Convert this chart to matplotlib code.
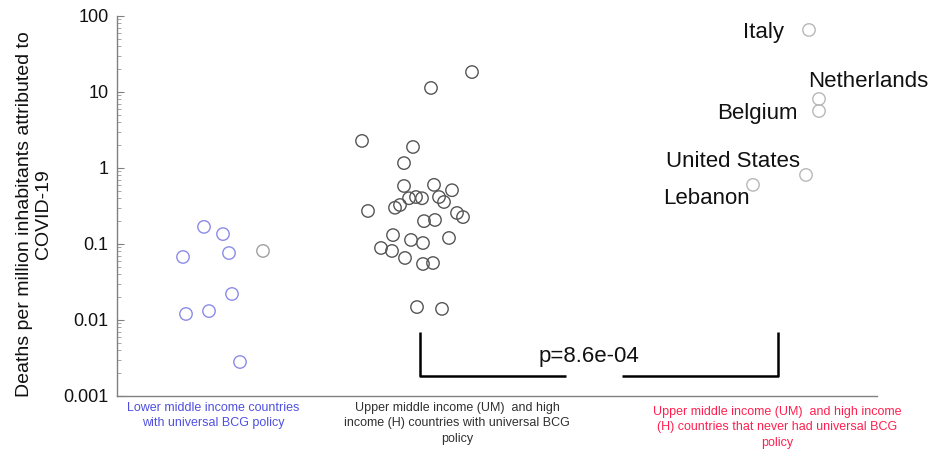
import matplotlib
matplotlib.use("Agg")
import matplotlib.pyplot as plt
import numpy as np
from matplotlib.ticker import LogLocator, FixedLocator, FixedFormatter

plt.rcParams['font.family'] = ['Liberation Sans', 'DejaVu Sans']

# ---- data ----
lm_x = [87, 106, 66, 112, 146, 115, 69, 92, 123]
lm_y = [0.168, 0.135, 0.0675, 0.076, 0.081, 0.022, 0.012, 0.0131, 0.0028]
lm_colors = ['#8c8ce8'] * 4 + ['#a0a0a0'] + ['#8c8ce8'] * 4

umh_x = [355, 314, 245, 296, 287, 287, 317, 335, 292, 299, 305, 322, 327, 278, 283,
         251, 340, 346, 307, 318, 276, 294, 306, 332, 264, 275, 288, 306, 316, 300, 325]
umh_y = [18.3, 11.3, 2.27, 1.89, 1.16, 0.58, 0.60, 0.51, 0.40, 0.415, 0.40, 0.415, 0.357,
         0.30, 0.326, 0.272, 0.256, 0.226, 0.20, 0.207, 0.131, 0.113, 0.103, 0.12,
         0.0886, 0.081, 0.0655, 0.0546, 0.0562, 0.0148, 0.014]

never_names = ['Italy', 'Netherlands', 'Belgium', 'United States', 'Lebanon']
never_x = [692, 702, 702, 689, 636]
never_y = [65.5, 8.09, 5.62, 0.81, 0.60]
label_offsets = [(-46, -3), (49, 17), (-62, -2), (-73, 13), (-47, -14)]

group_labels = ['Lower middle income countries\nwith universal BCG policy',
                'Upper middle income (UM)  and high\nincome (H) countries with universal BCG\npolicy',
                'Upper middle income (UM)  and high income\n(H) countries that never had universal BCG\npolicy']
group_label_x = [96, 340, 660]
group_label_y = [-0.015, -0.015, -0.025]
group_label_colors = ['#5050e0', '#303030', '#ff2050']

yticks = [0.001, 0.01, 0.1, 1, 10, 100]
ytick_labels = ['0.001', '0.01', '0.1', '1', '10', '100']
p_text = 'p=8.6e-04'

# ---- figure ----
fig = plt.figure(figsize=(9.32, 4.5), dpi=100)
ax = fig.add_axes([117/932, 1-396/450, (877-117)/932, (396-16)/450])
ax.set_yscale('log')
ax.set_ylim(0.001, 100)
ax.set_xlim(0, 760)

ms = 80
ax.scatter(lm_x, lm_y, s=ms, facecolors='none', edgecolors=lm_colors, linewidths=1.0, zorder=3)
ax.scatter(umh_x, umh_y, s=ms, facecolors='none', edgecolors='#555555', linewidths=1.0, zorder=3)
ax.scatter(never_x, never_y, s=ms, facecolors='none', edgecolors='#b8b8b8', linewidths=1.0, zorder=3)

for name, x, y, (dx, dy) in zip(never_names, never_x, never_y, label_offsets):
    ax.annotate(name, (x, y), xytext=(dx, dy), textcoords='offset pixels',
                ha='center', va='center', fontsize=16, color='#111111')

# spines
for s in ['top', 'right']:
    ax.spines[s].set_visible(False)
for s in ['left', 'bottom']:
    ax.spines[s].set_color('#808080')
    ax.spines[s].set_linewidth(1.0)

ax.yaxis.set_major_locator(FixedLocator(yticks))
ax.yaxis.set_major_formatter(FixedFormatter(ytick_labels))
ax.yaxis.set_minor_locator(LogLocator(base=10, subs=np.arange(2, 10)))
ax.yaxis.set_minor_formatter(plt.NullFormatter())
ax.tick_params(axis='y', which='major', direction='in', length=5, width=0.8,
               colors='#808080', labelcolor='#111111', labelsize=13, pad=6)
ax.tick_params(axis='y', which='minor', direction='in', length=3, width=0.6, colors='#999999')
ax.set_xticks([])

# p-value bracket
bx_l, bx_r = 303, 661
by_top, by_bot = 0.00695, 0.00183
gap_l, gap_r = 449, 505
lk = dict(color='black', lw=1.8, solid_capstyle='butt', clip_on=False)
ax.plot([bx_l, bx_l, gap_l], [by_top, by_bot, by_bot], **lk)
ax.plot([gap_r, bx_r, bx_r], [by_bot, by_bot, by_top], **lk)
ax.text(472, 0.00326, p_text, ha='center', va='center', fontsize=16, color='#111111')

# group labels
trans = ax.get_xaxis_transform()
for txt, x, y, c in zip(group_labels, group_label_x, group_label_y, group_label_colors):
    ax.text(x, y, txt, transform=trans, ha='center', va='top', fontsize=9,
            color=c, linespacing=1.4)

fig.text(34/932, 1-214/450, 'Deaths per million inhabitants attributed to\nCOVID-19',
         rotation=90, ha='center', va='center', fontsize=14, color='#111111', linespacing=1.15)

fig.savefig('out.png', dpi=100)
